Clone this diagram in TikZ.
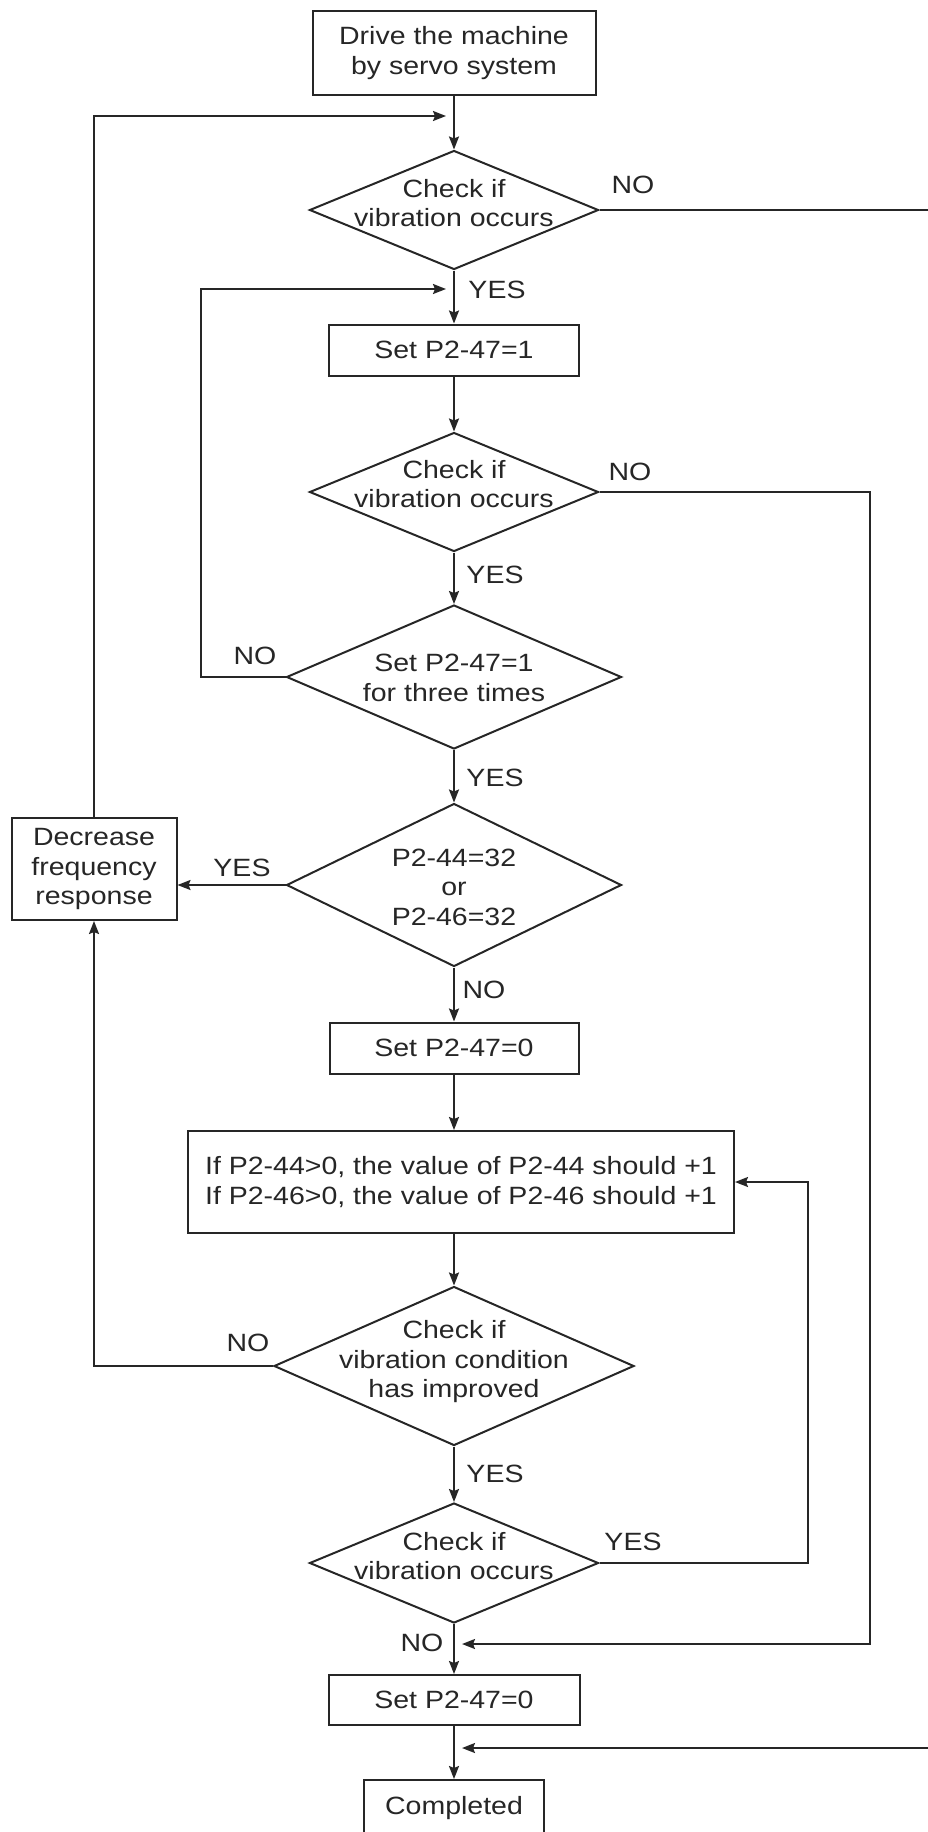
\documentclass[tikz,border=0pt]{standalone}
\usepackage{fontspec}
\setmainfont{Liberation Sans}[FakeStretch=1.14]
\usetikzlibrary{shapes.geometric,arrows.meta}

\begin{document}
\begin{tikzpicture}[x=1pt,y=-1pt,line width=2pt,color=black!85,
    font=\fontsize{25}{29.5}\selectfont,
    box/.style={draw,rectangle,inner sep=0pt,align=center},
    dia/.style={draw,diamond,inner sep=0pt},
    txt/.style={align=center,inner sep=0pt},
    lbl/.style={inner sep=0pt},
    flow/.style={-{Stealth[length=13pt,width=10pt,inset=2pt]}}]
    \useasboundingbox (0,0) rectangle (928,1832);

    % Boxes of the main column
    \node[box,minimum width=283pt,minimum height=84pt] (start) at (454,53) {Drive the machine\\by servo system};
    \node[box,minimum width=250pt,minimum height=51pt] (set1) at (454,350) {Set P2-47=1};
    \node[box,minimum width=249pt,minimum height=51pt] (set0) at (454,1048) {Set P2-47=0};
    \node[box,minimum width=546pt,minimum height=102pt] (incr) at (461,1182)
        {If P2-44>0, the value of P2-44 should +1\\If P2-46>0, the value of P2-46 should +1};
    \node[box,minimum width=251pt,minimum height=50pt] (set0b) at (454,1700) {Set P2-47=0};
    \node[box,minimum width=180pt,minimum height=80pt] (done) at (454,1820) {};
    \node[txt] (donet) at (454,1808) {Completed};
    \node[box,minimum width=165pt,minimum height=102pt] (dec) at (94,869) {Decrease\\frequency\\response};

    % Decisions
    \node[dia,minimum width=289pt,minimum height=119pt] (vib1) at (454,210) {};
    \node[txt] (vib1t) at (454,203) {Check if\\vibration occurs};
    \node[dia,minimum width=289pt,minimum height=119pt] (vib2) at (454,492) {};
    \node[txt] (vib2t) at (454,484) {Check if\\vibration occurs};
    \node[dia,minimum width=335pt,minimum height=144pt] (three) at (454,677) {};
    \node[txt] (threet) at (454,678) {Set P2-47=1\\for three times};
    \node[dia,minimum width=335pt,minimum height=163pt] (limit) at (454,885) {};
    \node[txt] (limitt) at (454,887) {P2-44=32\\or\\P2-46=32};
    \node[dia,minimum width=360pt,minimum height=159pt] (improve) at (454,1366) {};
    \node[txt] (improvet) at (454,1362) {Check if\\vibration condition\\has improved};
    \node[dia,minimum width=289pt,minimum height=120pt] (vib3) at (454,1563) {};
    \node[txt] (vib3t) at (454,1556) {Check if\\vibration occurs};

    % Junctions and bends
    \coordinate (j1) at (454,116);
    \coordinate (j2) at (454,289);
    \coordinate (j5) at (454,1644);
    \coordinate (j6) at (454,1748);
    \coordinate (l2) at (201,289);
    \coordinate (r1) at (940,210);
    \coordinate (r2) at (870,1644);
    \coordinate (r3) at (808,1182);
    \coordinate (r6) at (940,1748);

    % Main flow
    \draw[flow] (start) -- (vib1);
    \draw[flow] (vib1) -- (set1);
    \draw[flow] (set1) -- (vib2);
    \draw[flow] (vib2) -- (three);
    \draw[flow] (three) -- (limit);
    \draw[flow] (limit) -- (set0);
    \draw[flow] (set0.south) -- (set0.south |- incr.north);
    \draw[flow] (improve.north |- incr.south) -- (improve.north);
    \draw[flow] (improve) -- (vib3);
    \draw[flow] (vib3) -- (set0b);
    \draw[flow] (set0b) -- (done);

    % Loops on the left
    \draw[flow,shorten >=8pt] (dec.north) |- (j1);
    \draw[flow,shorten >=8pt] (three.west) -| (l2) -- (j2);
    \draw[flow] (limit.west) -- (limit.west -| dec.east);
    \draw[flow] (improve.west) -| (dec.south);

    % Loops on the right
    \draw (vib1.east) -- (r1);
    \draw[flow,shorten >=8pt] (vib2.east) -| (r2) -- (j5);
    \draw[flow] (vib3.east) -| (r3) -- (incr.east);
    \draw[flow,shorten >=8pt] (r6) -- (j6);

    % YES / NO labels
    \node[lbl] (vib1no) at (633,185) {NO};
    \node[lbl] (vib1yes) at (497,290) {YES};
    \node[lbl] (vib2no) at (630,472) {NO};
    \node[lbl] (vib2yes) at (495,575) {YES};
    \node[lbl] (threeno) at (255,656) {NO};
    \node[lbl] (threeyes) at (495,778) {YES};
    \node[lbl] (limityes) at (242,868) {YES};
    \node[lbl] (limitno) at (484,990) {NO};
    \node[lbl] (improveno) at (248,1343) {NO};
    \node[lbl] (improveyes) at (495,1474) {YES};
    \node[lbl] (vib3yes) at (633,1542) {YES};
    \node[lbl] (vib3no) at (422,1643) {NO};
\end{tikzpicture}
\end{document}
